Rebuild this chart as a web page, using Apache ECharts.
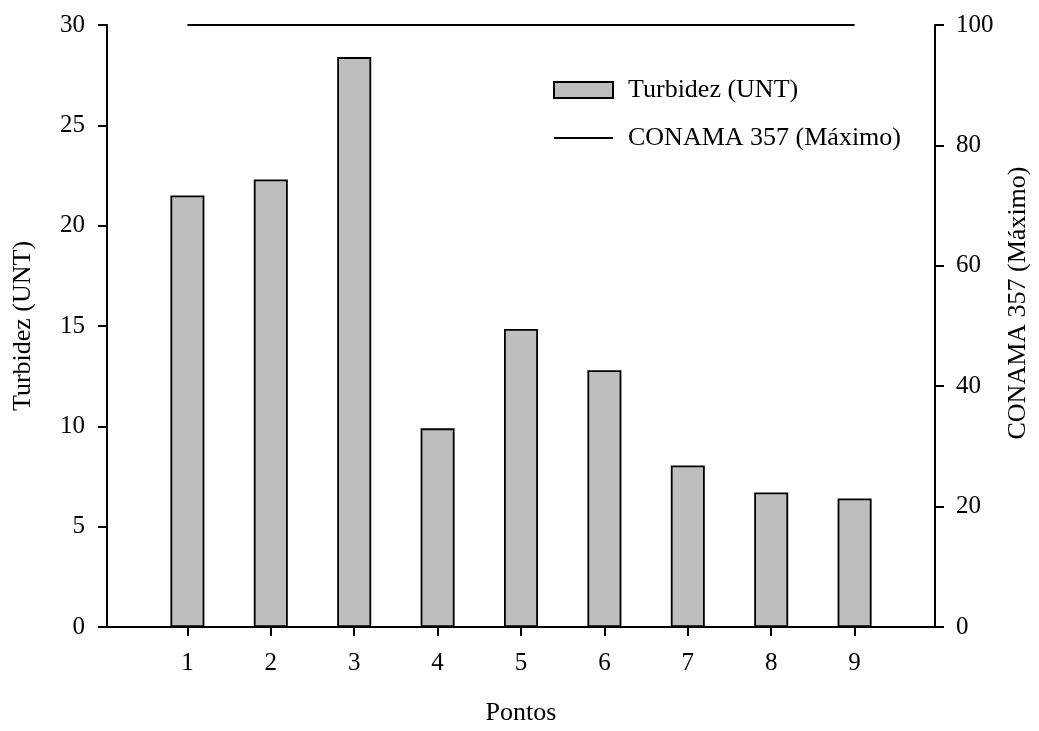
<!DOCTYPE html>
<html>
<head>
<meta charset="utf-8">
<script src="https://cdn.jsdelivr.net/npm/echarts@6/dist/echarts.min.js"></script>
<style>
html,body{margin:0;padding:0;background:#fff;}
#chart{width:1039px;height:731px;}
</style>
</head>
<body>
<div id="chart"></div>
<script>
var pontos = [1, 2, 3, 4, 5, 6, 7, 8, 9];
var turbidez = [21.5, 22.3, 28.4, 9.9, 14.85, 12.8, 8.05, 6.7, 6.4];
var conamaMax = [100, 100, 100, 100, 100, 100, 100, 100, 100];
var xTickLabels = [1, 2, 3, 4, 5, 6, 7, 8, 9];

var FONT = 'Liberation Serif';
var chart = echarts.init(document.getElementById('chart'));
var axisLineStyle = {color: '#000', width: 2};

chart.setOption({
  animation: false,
  backgroundColor: '#fff',
  grid: {left: 107, right: 97, top: 25, bottom: 98, containLabel: false},
  legend: {
    orient: 'vertical',
    left: 553,
    top: 77,
    padding: 0,
    itemWidth: 59,
    itemHeight: 16,
    itemGap: 22,
    textStyle: {fontFamily: FONT, fontSize: 26, color: '#000', padding: [0, 0, 0, 10]},
    data: [
      {name: 'Turbidez (UNT)', icon: 'rect'},
      {name: 'CONAMA 357 (Máximo)', itemStyle: {opacity: 0, borderWidth: 0}}
    ]
  },
  xAxis: {
    type: 'value',
    min: 0.036,
    max: 9.964,
    name: 'Pontos',
    nameLocation: 'middle',
    nameGap: 73,
    nameTextStyle: {fontFamily: FONT, fontSize: 26, color: '#000'},
    axisLine: {show: true, lineStyle: axisLineStyle},
    axisTick: {show: true, length: 9, lineStyle: axisLineStyle, customValues: xTickLabels},
    axisLabel: {fontFamily: FONT, fontSize: 25, color: '#000', margin: 24, customValues: xTickLabels},
    splitLine: {show: false}
  },
  yAxis: [
    {
      type: 'value',
      position: 'left',
      min: 0, max: 30, interval: 5,
      name: 'Turbidez (UNT)',
      nameLocation: 'middle',
      nameRotate: 90,
      nameGap: 71,
      nameTextStyle: {fontFamily: FONT, fontSize: 26, color: '#000'},
      axisLine: {show: true, lineStyle: axisLineStyle},
      axisTick: {show: true, length: 9, lineStyle: axisLineStyle},
      axisLabel: {fontFamily: FONT, fontSize: 25, color: '#000', margin: 22},
      splitLine: {show: false}
    },
    {
      type: 'value',
      position: 'right',
      min: 0, max: 100, interval: 20,
      name: 'CONAMA 357 (Máximo)',
      nameLocation: 'middle',
      nameRotate: 90,
      nameGap: 70,
      nameTextStyle: {fontFamily: FONT, fontSize: 26, color: '#000', padding: [0, 0, 0, 46]},
      axisLine: {show: true, lineStyle: axisLineStyle},
      axisTick: {show: true, length: 9, lineStyle: axisLineStyle},
      axisLabel: {fontFamily: FONT, fontSize: 25, color: '#000', margin: 21},
      splitLine: {show: false}
    }
  ],
  series: [
    {
      name: 'Turbidez (UNT)',
      type: 'bar',
      yAxisIndex: 0,
      barWidth: 34,
      itemStyle: {color: '#bebebe', borderColor: '#000', borderWidth: 1.8},
      data: pontos.map(function (p, i) { return [p, turbidez[i]]; })
    },
    {
      name: 'CONAMA 357 (Máximo)',
      type: 'line',
      yAxisIndex: 1,
      symbol: 'none',
      lineStyle: {color: '#000', width: 2},
      itemStyle: {color: '#000'},
      data: pontos.map(function (p, i) { return [p, conamaMax[i]]; })
    }
  ]
});
</script>
</body>
</html>
